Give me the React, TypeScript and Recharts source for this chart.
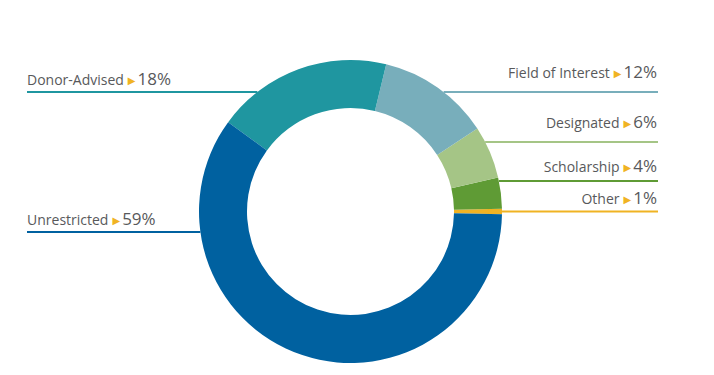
import React from 'react';
import { PieChart, Pie, Cell } from 'recharts';

// Data (counter-clockwise from 3 o'clock)
const categories = ['Other', 'Scholarship', 'Designated', 'Field of Interest', 'Donor-Advised', 'Unrestricted'];
const values = [0.56, 3.33, 5.6, 12.0, 18.75, 59.76];
const pctLabels = ['1%', '4%', '6%', '12%', '18%', '59%'];

// Styling / layout
const colors = ['#f0b323', '#5f9b35', '#a5c586', '#78aebb', '#1f96a0', '#0061a0'];
const sides = ['right', 'right', 'right', 'right', 'left', 'left'];
const lineOffsets = [0, -30.5, -69.5, -119.5, -119.5, 20.5]; // relative to centre
const textGaps = [8, 9, 14, 14, 7, 7];

const W = 714;
const H = 375;
const LEFT_X = 27;
const RIGHT_X = 658;
const FONT = '"Open Sans", "Noto Sans", sans-serif';
const TEXT_COLOR = '#58595b';

const data = categories.map((name, i) => ({ name, value: values[i] }));

const renderLabel = (props: any) => {
  const { cx, cy, outerRadius, index } = props;
  const dy = lineOffsets[index];
  const y = cy + dy;
  const dx = Math.sqrt(Math.max(outerRadius * outerRadius - dy * dy, 0));
  const side = sides[index];
  const edgeX = side === 'left' ? cx - dx : cx + dx;
  const x1 = side === 'left' ? LEFT_X : edgeX;
  const x2 = side === 'left' ? edgeX : RIGHT_X;
  const tx = side === 'left' ? LEFT_X : RIGHT_X - 1;
  const ty = y - textGaps[index];
  return (
    <g key={`lbl-${index}`}>
      <line x1={x1} y1={y} x2={x2} y2={y} stroke={colors[index]} strokeWidth={2} />
      <text
        x={tx}
        y={ty}
        textAnchor={side === 'left' ? 'start' : 'end'}
        fontFamily={FONT}
        fill={TEXT_COLOR}
      >
        <tspan fontSize={14}>{categories[index]}</tspan>
        <tspan fontSize={10} fill="#f0b323" dx={4} fontFamily='"DejaVu Sans", sans-serif' dy={-1}>▶</tspan>
        <tspan fontSize={17} dx={2} dy={1}>{pctLabels[index]}</tspan>
      </text>
    </g>
  );
};

export default function App() {
  return (
    <div style={{ position: 'absolute', left: 0, top: 0, width: W, height: H, background: '#fff' }}>
      <PieChart width={W} height={H} margin={{ top: 0, right: 0, bottom: 0, left: 0 }}>
        <Pie
          data={data}
          dataKey="value"
          nameKey="name"
          cx={350.5}
          cy={211.5}
          innerRadius={103.5}
          outerRadius={151.5}
          startAngle={-1}
          endAngle={359}
          stroke="none"
          isAnimationActive={false}
          label={renderLabel}
          labelLine={false}
        >
          {data.map((d, i) => (
            <Cell key={d.name} fill={colors[i]} />
          ))}
        </Pie>
      </PieChart>
    </div>
  );
}
